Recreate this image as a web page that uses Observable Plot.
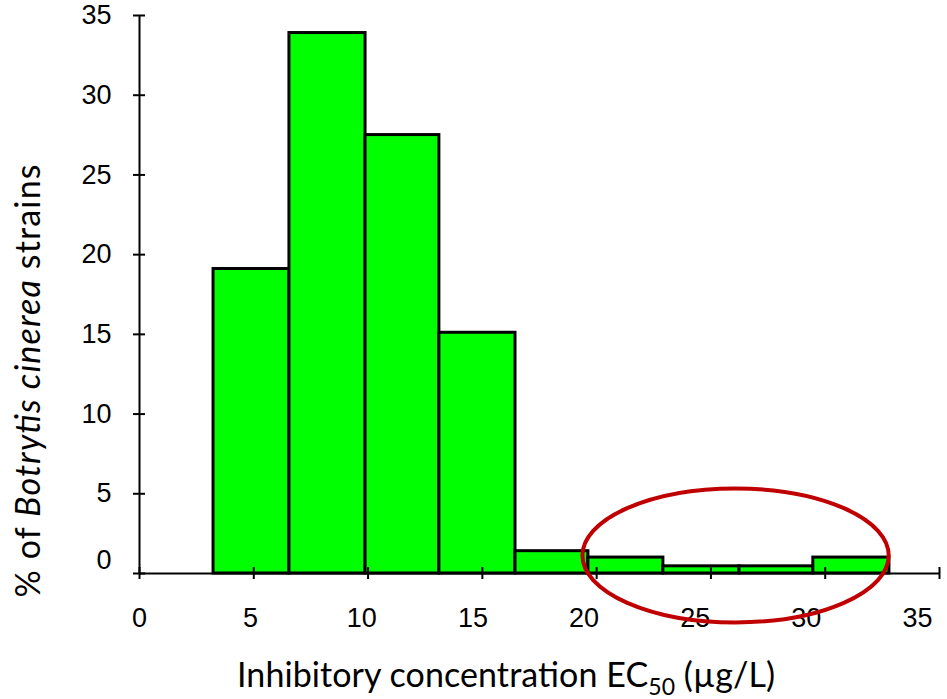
<!DOCTYPE html>
<html>
<head>
<meta charset="utf-8">
<script src="https://cdn.jsdelivr.net/npm/d3@7"></script>
<script src="https://cdn.jsdelivr.net/npm/@observablehq/plot@0.6"></script>
<style>
  html, body { margin: 0; padding: 0; background: #fff; }
  #chart svg { display: block; }
</style>
</head>
<body>
<div id="chart"></div>
<script>
// Bin edges (µg/L)
const binStart = [0, 3.24, 6.56, 9.89, 13.12, 16.45, 19.64, 22.92, 26.25, 29.48];
const binEnd   = [3.24, 6.56, 9.89, 13.12, 16.45, 19.64, 22.92, 26.25, 29.48, 32.81];
// Percentage of strains per bin
const percent  = [0, 19.1, 33.9, 27.5, 15.1, 1.4, 1.0, 0.45, 0.45, 1.0];
// Tick labels
const xTicks = [0, 5, 10, 15, 20, 25, 30, 35];
const yTicks = [0, 5, 10, 15, 20, 25, 30, 35];
// Highlight ellipse annotation (data units)
const ellipseCenter = [26.1, 1.1];
const ellipseRadii = [6.7, 4.2];

const bins = binStart.map((s, i) => ({x1: s, x2: binEnd[i], y: percent[i]}));

const tickFont = "'Liberation Sans', Arial, sans-serif";

const plot = Plot.plot({
  width: 947,
  height: 699,
  marginLeft: 139,
  marginRight: 8,
  marginTop: 15,
  marginBottom: 126,
  style: {background: "#fff", fontFamily: tickFont, fontSize: "27px", color: "#000", overflow: "visible"},
  x: {domain: [0, 35], axis: null},
  y: {domain: [0, 35], axis: null},
  marks: [
    Plot.rectY(bins, {x1: "x1", x2: "x2", y1: 0, y2: "y", fill: "#00ff00", stroke: "#000", strokeWidth: 3}),
    Plot.ruleX([0], {y1: 0, y2: 35, stroke: "#000", strokeWidth: 2}),
    Plot.ruleY([0], {x1: 0, x2: 35, stroke: "#000", strokeWidth: 2}),
    // crossing tick marks
    Plot.axisY({ticks: yTicks, tickSize: 12, dx: 6, strokeWidth: 2, tickFormat: () => "", label: null}),
    Plot.axisX({ticks: xTicks, tickSize: 12, dy: -6, strokeWidth: 2, tickFormat: () => "", label: null}),
    // tick labels
    Plot.axisY({ticks: yTicks.filter(d => d !== 0), tickSize: 0, tickPadding: 28, fontSize: 27, label: null}),
    Plot.axisY({ticks: yTicks.filter(d => d === 0), tickSize: 0, tickPadding: 28, dy: -13, fontSize: 27, label: null}),
    ...xTicks.map(t => Plot.axisX({ticks: [t], tickSize: 0, tickPadding: 34, dx: -t * 0.63, fontSize: 27, label: null}))
  ]
});

document.getElementById("chart").appendChild(plot);

const svg = d3.select(plot);
const sx = plot.scale("x");
const sy = plot.scale("y");

// Red ellipse annotation
const cx = sx.apply(ellipseCenter[0]);
const cy = sy.apply(ellipseCenter[1]);
const rx = sx.apply(ellipseCenter[0] + ellipseRadii[0]) - cx;
const ry = cy - sy.apply(ellipseCenter[1] + ellipseRadii[1]);
svg.append("ellipse")
  .attr("cx", cx).attr("cy", cy).attr("rx", rx).attr("ry", ry)
  .attr("fill", "none").attr("stroke", "#c00000").attr("stroke-width", 4);

const titleFont = "Lato, 'Open Sans', sans-serif";

// X axis title
const xt = svg.append("text")
  .attr("x", 506).attr("y", 687)
  .attr("text-anchor", "middle")
  .attr("font-family", titleFont)
  .attr("font-size", 34)
  .attr("textLength", 538)
  .attr("lengthAdjust", "spacing")
  .attr("fill", "#000");
xt.append("tspan").text("Inhibitory concentration EC");
xt.append("tspan").attr("font-size", 23).attr("dy", 8).text("50");
xt.append("tspan").attr("dy", -8).text(" (µg/L)");

// Y axis title
const yt = svg.append("text")
  .attr("transform", "translate(40,381) rotate(-90)")
  .attr("text-anchor", "middle")
  .attr("font-family", titleFont)
  .attr("font-size", 34)
  .attr("textLength", 433)
  .attr("lengthAdjust", "spacing")
  .attr("fill", "#000");
yt.append("tspan").text("% of ");
yt.append("tspan").attr("font-style", "italic").text("Botrytis cinerea");
yt.append("tspan").text(" strains");
</script>
</body>
</html>
